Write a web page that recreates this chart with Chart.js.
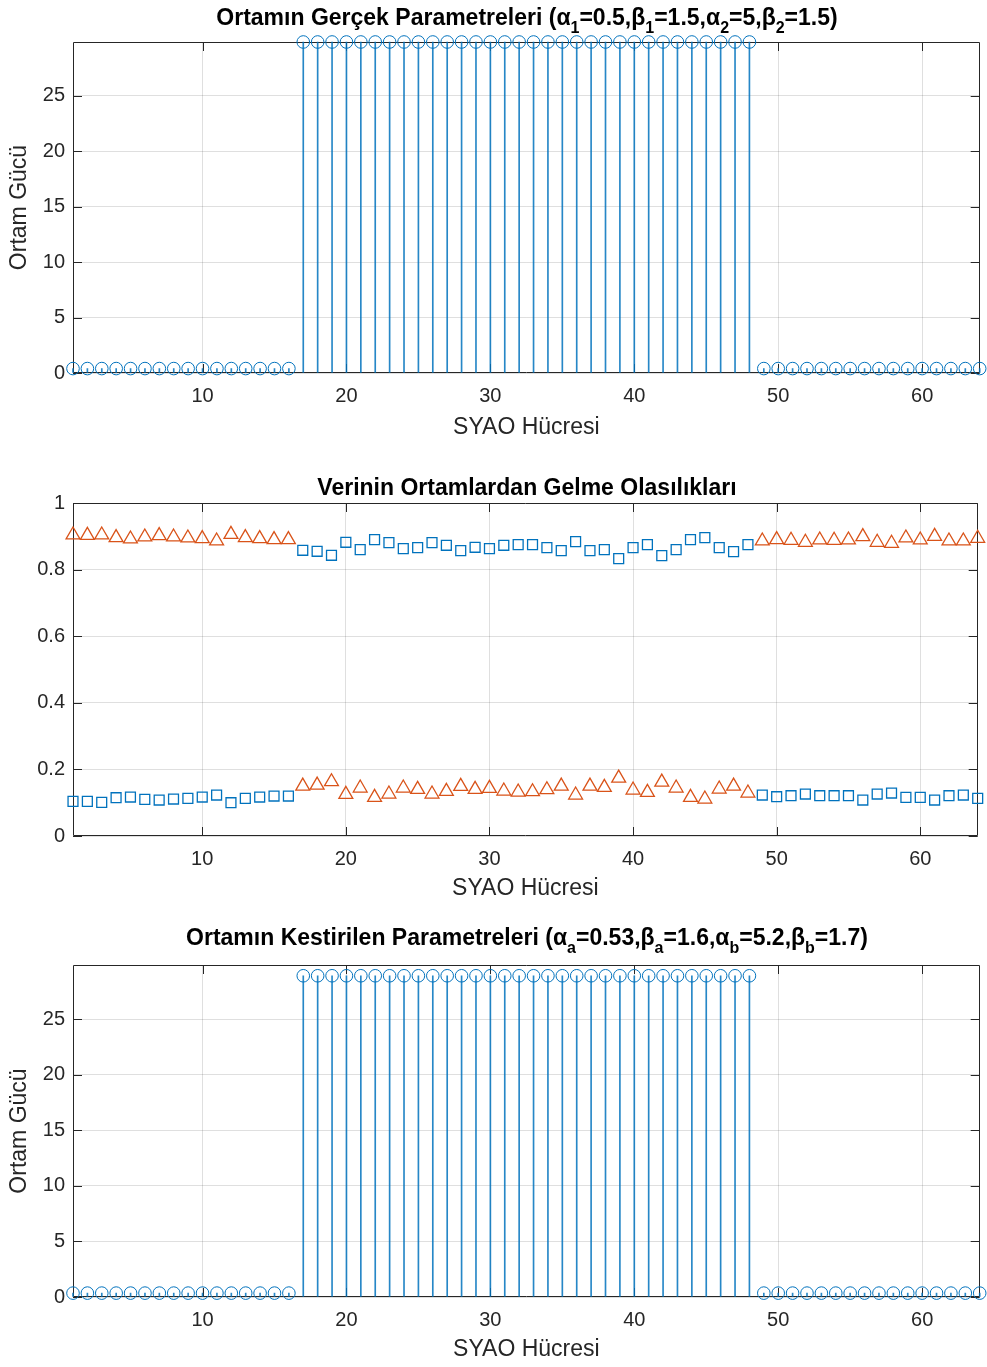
<!DOCTYPE html>
<html><head><meta charset="utf-8">
<script src="https://cdn.jsdelivr.net/npm/chart.js@4.4.1/dist/chart.umd.min.js"></script>
<style>
html,body{margin:0;padding:0;background:#fff;}
#wrap{position:relative;width:987px;height:1367px;overflow:hidden;background:#fff;}
canvas{position:absolute;left:0;}
.ttl{position:absolute;left:73px;width:908px;text-align:center;font-family:"Liberation Sans",Arial,Helvetica,sans-serif;font-weight:bold;font-size:23px;line-height:23px;color:#000;white-space:nowrap;}
.ttl sub{font-size:16px;vertical-align:baseline;position:relative;top:8px;line-height:0;}
</style></head>
<body><div id="wrap">
<canvas id="c1" width="987" height="450" style="top:0px"></canvas>
<canvas id="c2" width="987" height="470" style="top:450px"></canvas>
<canvas id="c3" width="987" height="447" style="top:920px"></canvas>
<div class="ttl" style="top:6px">Ortamın Gerçek Parametreleri (α<sub>1</sub>=0.5,β<sub>1</sub>=1.5,α<sub>2</sub>=5,β<sub>2</sub>=1.5)</div>
<div class="ttl" style="top:476px">Verinin Ortamlardan Gelme Olasılıkları</div>
<div class="ttl" style="top:926px">Ortamın Kestirilen Parametreleri (α<sub>a</sub>=0.53,β<sub>a</sub>=1.6,α<sub>b</sub>=5.2,β<sub>b</sub>=1.7)</div>
</div>
<script>
// ---------- data ----------
const cellIndex = [1,2,3,4,5,6,7,8,9,10,11,12,13,14,15,16,17,18,19,20,21,22,23,24,25,26,27,28,29,30,31,32,
  33,34,35,36,37,38,39,40,41,42,43,44,45,46,47,48,49,50,51,52,53,54,55,56,57,58,59,60,61,62,63,64];

const truePower = [0.4,0.4,0.4,0.4,0.4,0.4,0.4,0.4,0.4,0.4,0.4,0.4,0.4,0.4,0.4,0.4,
  29.87,29.87,29.87,29.87,29.87,29.87,29.87,29.87,29.87,29.87,29.87,29.87,29.87,29.87,29.87,29.87,
  29.87,29.87,29.87,29.87,29.87,29.87,29.87,29.87,29.87,29.87,29.87,29.87,29.87,29.87,29.87,29.87,
  0.4,0.4,0.4,0.4,0.4,0.4,0.4,0.4,0.4,0.4,0.4,0.4,0.4,0.4,0.4,0.4];

const estPower = [0.35,0.35,0.35,0.35,0.35,0.35,0.35,0.35,0.35,0.35,0.35,0.35,0.35,0.35,0.35,0.35,
  28.9,28.9,28.9,28.9,28.9,28.9,28.9,28.9,28.9,28.9,28.9,28.9,28.9,28.9,28.9,28.9,
  28.9,28.9,28.9,28.9,28.9,28.9,28.9,28.9,28.9,28.9,28.9,28.9,28.9,28.9,28.9,28.9,
  0.35,0.35,0.35,0.35,0.35,0.35,0.35,0.35,0.35,0.35,0.35,0.35,0.35,0.35,0.35,0.35];

const probBlue = [0.104,0.104,0.101,0.115,0.117,0.110,0.108,0.111,0.113,0.117,0.123,0.100,0.113,0.117,0.120,0.120,
  0.858,0.855,0.843,0.882,0.860,0.890,0.881,0.863,0.866,0.881,0.873,0.857,0.867,0.863,0.873,0.875,
  0.875,0.866,0.857,0.884,0.857,0.860,0.833,0.866,0.875,0.842,0.860,0.890,0.896,0.866,0.854,0.875,
  0.123,0.118,0.121,0.126,0.121,0.121,0.121,0.108,0.126,0.129,0.116,0.116,0.108,0.121,0.123,0.113];

const probOrange = [0.904,0.903,0.904,0.896,0.892,0.898,0.902,0.898,0.895,0.893,0.886,0.906,0.896,0.893,0.890,0.890,
  0.150,0.153,0.163,0.125,0.144,0.116,0.126,0.144,0.140,0.126,0.134,0.149,0.140,0.143,0.135,0.132,
  0.133,0.139,0.150,0.123,0.150,0.146,0.174,0.138,0.131,0.162,0.144,0.116,0.111,0.141,0.150,0.129,
  0.886,0.890,0.888,0.882,0.889,0.888,0.889,0.899,0.882,0.879,0.895,0.889,0.900,0.886,0.886,0.894];

const xTickValues = [10,20,30,40,50,60];
const xTickLabels = ['10','20','30','40','50','60'];
const powerTickValues = [0,5,10,15,20,25];
const powerTickLabels = ['0','5','10','15','20','25'];
const probTickValues = [0,0.2,0.4,0.6,0.8,1];
const probTickLabels = ['0','0.2','0.4','0.6','0.8','1'];
const xAxisLabel = 'SYAO Hücresi';
const yAxisLabel = 'Ortam Gücü';

// ---------- styles ----------
const FONT = '"Liberation Sans", Arial, Helvetica, sans-serif';
const AX = '#262626';
const GRID = 'rgba(38,38,38,0.15)';
const BLUE = '#0072BD';
const STEM = 'rgba(0,114,189,0.85)';
const ORANGE = '#D95319';

const boxPlugin = {
  id: 'matlabBox',
  beforeDatasetsDraw(chart) {
    const {ctx, chartArea: {left, right, top, bottom}, scales: {x, y}} = chart;
    ctx.save();
    ctx.strokeStyle = AX;
    ctx.lineWidth = 1;
    const L = 9;
    ctx.beginPath();
    x.ticks.forEach(t => {
      const px = Math.round(x.getPixelForValue(t.value)) + 0.5;
      ctx.moveTo(px, bottom); ctx.lineTo(px, bottom - L);
      ctx.moveTo(px, top); ctx.lineTo(px, top + L);
    });
    y.ticks.forEach(t => {
      const py = Math.round(y.getPixelForValue(t.value)) + 0.5;
      ctx.moveTo(left, py); ctx.lineTo(left + L, py);
      ctx.moveTo(right, py); ctx.lineTo(right - L, py);
    });
    ctx.stroke();
    ctx.beginPath();
    ctx.rect(Math.round(left) + 0.5, Math.round(top) + 0.5, Math.round(right - left) - 1, Math.round(bottom - top) - 1);
    ctx.stroke();
    ctx.restore();
  }
};

function xScale(axisH, titlePadBottom) {
  return {
    type: 'linear', min: 1, max: 64, offset: false,
    afterBuildTicks: s => { s.ticks = xTickValues.map(v => ({value: v})); },
    afterFit: s => { s.height = axisH; },
    grid: {color: GRID, drawTicks: false, offset: false, lineWidth: 1},
    border: {display: false},
    ticks: {color: AX, font: {family: FONT, size: 20}, padding: 11, maxRotation: 0, autoSkip: false,
      callback: (v, i) => xTickLabels[i]},
    title: {display: true, text: xAxisLabel, color: AX, font: {family: FONT, size: 23},
      padding: {top: 0, bottom: titlePadBottom}}
  };
}

function yScale(max, tickVals, tickLabels, withTitle) {
  return {
    type: 'linear', min: 0, max: max,
    afterBuildTicks: s => { s.ticks = tickVals.map(v => ({value: v})); },
    afterFit: s => { s.width = 73; },
    grid: {color: GRID, drawTicks: false, lineWidth: 1},
    border: {display: false},
    ticks: {color: AX, font: {family: FONT, size: 20}, padding: 8, autoSkip: false,
      callback: (v, i) => tickLabels[i]},
    title: {display: withTitle, text: yAxisLabel, color: AX, font: {family: FONT, size: 23},
      padding: {top: 6, bottom: 0}}
  };
}

const common = {
  responsive: false, devicePixelRatio: 1, animation: false, events: [],
  plugins: {legend: {display: false}, tooltip: {enabled: false}, title: {display: false}}
};

function stemChart(id, values, padTop, axisH, titlePad) {
  const pts = values.map((v, i) => ({x: cellIndex[i], y: v}));
  return new Chart(document.getElementById(id), {
    type: 'bar',
    data: {datasets: [
      {type: 'bar', data: pts, backgroundColor: STEM, borderWidth: 0, barThickness: 1, clip: false},
      {type: 'scatter', data: pts, pointStyle: 'circle', pointRadius: 6.3, pointHoverRadius: 6.3,
        borderColor: BLUE, backgroundColor: 'rgba(0,0,0,0)', borderWidth: 1, showLine: false, clip: false}
    ]},
    options: Object.assign({}, common, {
      layout: {padding: {left: 0, right: 6, top: padTop, bottom: 0}},
      scales: {x: xScale(axisH, titlePad), y: yScale(29.87, powerTickValues, powerTickLabels, true)}
    }),
    plugins: [boxPlugin]
  });
}

stemChart('c1', truePower, 42, 77, 9);

new Chart(document.getElementById('c2'), {
  type: 'scatter',
  data: {datasets: [
    {data: probBlue.map((v, i) => ({x: cellIndex[i], y: v})), pointStyle: 'rect', pointRadius: 7, pointHoverRadius: 7,
      borderColor: BLUE, backgroundColor: 'rgba(0,0,0,0)', borderWidth: 1.3, clip: false},
    {data: probOrange.map((v, i) => ({x: cellIndex[i], y: v})), pointStyle: 'triangle', pointRadius: 8, pointHoverRadius: 8,
      borderColor: ORANGE, backgroundColor: 'rgba(0,0,0,0)', borderWidth: 1.3, clip: false}
  ]},
  options: Object.assign({}, common, {
    layout: {padding: {left: 0, right: 6, top: 53, bottom: 0}},
    scales: {x: xScale(84, 18), y: yScale(1, probTickValues, probTickLabels, false)}
  }),
  plugins: [boxPlugin]
});

stemChart('c3', estPower, 45, 70, 4);
</script>
</body></html>
